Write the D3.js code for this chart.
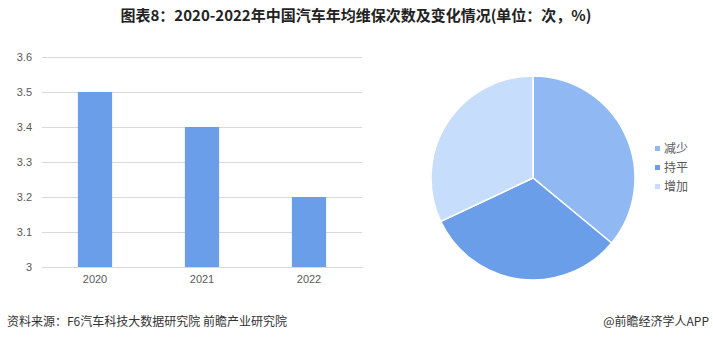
<!DOCTYPE html>
<html>
<head>
<meta charset="utf-8">
<script src="https://cdn.jsdelivr.net/npm/d3@7"></script>
<style>
  body { margin: 0; background: #fff; }
  svg { display: block; font-family: "Noto Sans CJK SC", "Noto Sans", sans-serif; }
</style>
</head>
<body>
<svg id="chart" width="713" height="343"></svg>
<script>
// Bar data: yearly average maintenance count
const years = ['2020', '2021', '2022'];
const visits = [3.5, 3.4, 3.2];
const yTicks = [3, 3.1, 3.2, 3.3, 3.4, 3.5, 3.6];

// Pie data: change share (%)
const changeLabels = ['减少', '持平', '增加'];
const changeShares = [36, 32, 32];
const pieColors = ['#90b9f3', '#6a9ee8', '#c6defb'];

const svg = d3.select('#chart');

// Title
svg.append('text')
  .attr('x', 356)
  .attr('y', 21)
  .attr('text-anchor', 'middle')
  .attr('font-size', 15)
  .attr('font-weight', 'bold')
  .attr('fill', '#222')
  .text('图表8：2020-2022年中国汽车年均维保次数及变化情况(单位：次，%)');

// Bar chart
const xScale = d3.scaleBand()
  .domain(years)
  .range([41.5, 362.5])
  .paddingInner(0.68)
  .paddingOuter(0.34);

const yScale = d3.scaleLinear()
  .domain([3, 3.6])
  .range([267, 57]);

const yAxis = svg.append('g')
  .attr('transform', 'translate(42,0)')
  .call(d3.axisLeft(yScale).tickValues(yTicks).tickSize(-320).tickFormat(d => d3.format('')(d)));
yAxis.select('.domain').remove();
yAxis.selectAll('line').attr('stroke', '#d9d9d9');
yAxis.selectAll('text')
  .attr('x', -10)
  .attr('fill', '#595959')
  .attr('font-size', 11);

svg.selectAll('.bar')
  .data(years)
  .enter()
  .append('rect')
  .attr('class', 'bar')
  .attr('x', d => xScale(d))
  .attr('y', (d, i) => yScale(visits[i]))
  .attr('width', xScale.bandwidth())
  .attr('height', (d, i) => yScale(3) - yScale(visits[i]))
  .attr('fill', '#6a9ee8');

const xAxis = svg.append('g')
  .attr('transform', 'translate(0,267)')
  .call(d3.axisBottom(xScale).tickSize(0).tickPadding(8));
xAxis.select('.domain').attr('stroke', '#d9d9d9');
xAxis.selectAll('text')
  .attr('fill', '#595959')
  .attr('font-size', 11);

// Pie chart
const pie = d3.pie().sort(null).value(d => d);
const arc = d3.arc().innerRadius(0).outerRadius(102);

const pieG = svg.append('g').attr('transform', 'translate(533,178)');
pieG.selectAll('path')
  .data(pie(changeShares))
  .enter()
  .append('path')
  .attr('d', arc)
  .attr('fill', (d, i) => pieColors[i])
  .attr('stroke', '#fff')
  .attr('stroke-width', 1.5);

// Legend
const legend = svg.append('g').attr('transform', 'translate(655,149)');
changeLabels.forEach((label, i) => {
  const row = legend.append('g').attr('transform', `translate(0,${i * 19})`);
  row.append('rect')
    .attr('x', 0).attr('y', -3)
    .attr('width', 5).attr('height', 5)
    .attr('fill', pieColors[i]);
  row.append('text')
    .attr('x', 9).attr('y', 4)
    .attr('font-size', 12)
    .attr('fill', '#595959')
    .text(label);
});

// Footer
svg.append('text')
  .attr('x', 7).attr('y', 326)
  .attr('font-size', 12)
  .attr('fill', '#333')
  .text('资料来源：F6汽车科技大数据研究院 前瞻产业研究院');

svg.append('text')
  .attr('x', 709).attr('y', 326)
  .attr('text-anchor', 'end')
  .attr('font-size', 12)
  .attr('fill', '#333')
  .text('@前瞻经济学人APP');
</script>
</body>
</html>
